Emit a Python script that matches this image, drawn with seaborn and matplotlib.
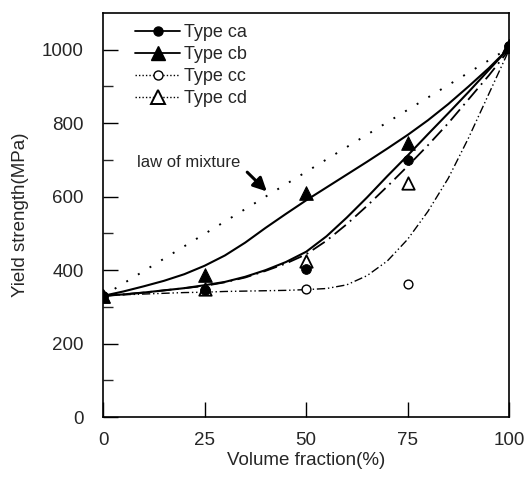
import matplotlib
matplotlib.use("Agg")
import matplotlib.pyplot as plt
from matplotlib.lines import Line2D
import seaborn as sns

# measured points
frac = [0, 25, 50, 75, 100]
ys_ca = [330, 345, 403, 700, 1010]
ys_cb = [330, 388, 611, 747, 1010]
ys_cc = [330, 345, 349, 362, 1010]
ys_cd = [330, 350, 425, 637, 1010]

# fitted curves
fit_x = [0, 5, 10, 15, 20, 25, 30, 35, 40, 45, 50, 55, 60, 65, 70, 75, 80, 85, 90, 95, 100]
fit_ca = [330, 334, 339, 345, 351, 359, 368, 382, 400, 422, 450, 492, 543, 598, 656, 712, 770, 827, 885, 945, 1005]
fit_cb = [330, 342, 356, 371, 389, 412, 440, 475, 515, 553, 590, 625, 660, 695, 731, 768, 808, 852, 900, 950, 1005]
fit_cc = [330, 333, 335, 337, 339, 340, 342, 343, 344, 345, 347, 350, 360, 385, 425, 484, 560, 650, 760, 880, 1000]
fit_cd = [330, 334, 339, 345, 351, 357, 367, 380, 398, 418, 443, 480, 525, 575, 628, 683, 740, 800, 865, 930, 1000]
mix_x = [0, 100]
mix_y = [330, 1005]

sns.set_style("ticks")
plt.rcParams["font.family"] = ["Liberation Sans", "DejaVu Sans"]

fig = plt.figure(figsize=(5.26, 4.8), dpi=100)
ax = fig.add_axes([0.196, 0.131, 0.772, 0.842])

# curves
sns.lineplot(x=mix_x, y=mix_y, ax=ax, color="black", lw=1.4, linestyle=(0, (1, 6)))
sns.lineplot(x=fit_x, y=fit_cb, ax=ax, color="black", lw=1.5, linestyle="-")
sns.lineplot(x=fit_x, y=fit_ca, ax=ax, color="black", lw=1.5, linestyle="-")
sns.lineplot(x=fit_x, y=fit_cd, ax=ax, color="black", lw=1.3, linestyle=(0, (8, 3, 1, 3)))
sns.lineplot(x=fit_x, y=fit_cc, ax=ax, color="black", lw=1.0, linestyle=(0, (6, 2, 1, 2, 1, 2)))

# markers: open first, filled on top
sns.scatterplot(x=frac, y=ys_cc, ax=ax, marker="o", s=40, color="white", edgecolor="black", linewidth=1, zorder=3)
sns.scatterplot(x=frac, y=ys_cd, ax=ax, marker="^", s=80, color="white", edgecolor="black", linewidth=1.3, zorder=3)
sns.scatterplot(x=frac, y=ys_ca, ax=ax, marker="o", s=50, color="black", edgecolor="black", zorder=4)
sns.scatterplot(x=frac, y=ys_cb, ax=ax, marker="^", s=95, color="black", edgecolor="black", zorder=5)

ax.set_xlim(0, 100)
ax.set_ylim(0, 1100)
ax.set_xticks([0, 25, 50, 75, 100])
ax.set_yticks([0, 200, 400, 600, 800, 1000])
ax.set_yticks([100, 300, 500, 700, 900], minor=True)
ax.tick_params(axis="both", direction="in", length=11, width=1, labelsize=13.5, color="black")
ax.tick_params(axis="y", pad=14)
ax.tick_params(axis="x", pad=11)
ax.tick_params(axis="y", which="minor", direction="in", length=7, width=1)
for sp in ax.spines.values():
    sp.set_visible(True)
    sp.set_linewidth(1.2)
    sp.set_color("black")

ax.set_xlabel("Volume fraction(%)", fontsize=13.5, labelpad=2)
ax.set_ylabel("Yield strength(MPa)", fontsize=13.5, labelpad=9)

# law of mixture label + arrow
ax.text(8.4, 692, "law of mixture", fontsize=12, va="center", ha="left")
ax.annotate("", xy=(40.8, 609), xytext=(35.0, 672),
            arrowprops=dict(arrowstyle="-|>", color="black", lw=2.2, mutation_scale=20))

handles = [
    Line2D([], [], color="black", lw=1.3, marker="o", markersize=6.5, label="Type ca"),
    Line2D([], [], color="black", lw=1.3, marker="^", markersize=9.5, label="Type cb"),
    Line2D([], [], color="black", lw=1.0, linestyle=(0, (1, 1.5)), marker="o", markersize=6.5,
           markerfacecolor="white", label="Type cc"),
    Line2D([], [], color="black", lw=1.0, linestyle=(0, (1, 1.5)), marker="^", markersize=9.5,
           markerfacecolor="white", markeredgewidth=1.4, label="Type cd"),
]
ax.legend(handles=handles, loc="upper left", bbox_to_anchor=(0.079, 0.972), frameon=False,
          borderaxespad=0, borderpad=0, fontsize=13, handlelength=2.5, handletextpad=0.2,
          labelspacing=0.28)

fig.savefig("out.png", dpi=100)
